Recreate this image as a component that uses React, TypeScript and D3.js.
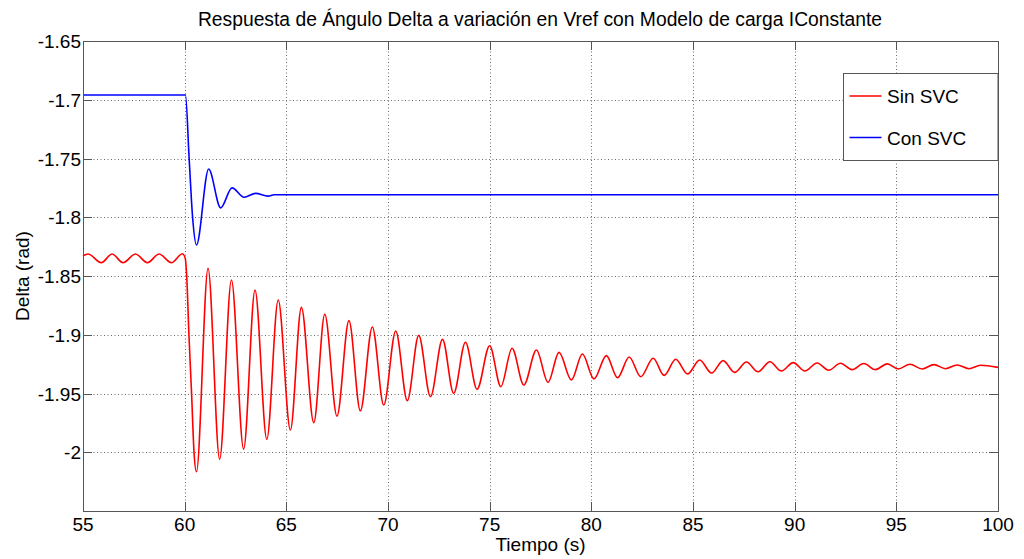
import React from 'react';
import * as d3 from 'd3';

// Readings from the figure: time (s) and delta angle (rad) at turning points
const sinSvcTime = [
  55.0, 55.25, 55.9, 56.43, 56.97, 57.58, 58.17, 58.74, 59.35, 59.89,
  60.03, 60.1, 60.21, 60.34, 60.46, 60.58, 61.15, 61.72, 62.3, 62.9,
  63.46, 64.04, 64.6, 65.2, 65.74, 66.35, 66.89, 67.49, 68.08, 68.64,
  69.23, 69.79, 70.38, 70.95, 71.51, 72.09, 72.68, 73.23, 73.81, 74.38,
  75.0, 75.55, 76.1, 76.68, 77.3, 77.87, 78.41, 79.02, 79.56, 80.13,
  80.74, 81.29, 81.86, 82.43, 83.04, 83.58, 84.15, 84.73, 85.33, 85.91,
  86.48, 87.05, 87.63, 88.2, 88.78, 89.35, 89.93, 90.5, 91.1, 91.68,
  92.25, 92.82, 93.4, 93.97, 94.55, 95.09, 95.67, 96.27, 96.85, 97.42,
  97.99, 98.57, 99.14, 100.0,
];
const sinSvcDelta = [
  -1.8328, -1.8313, -1.8387, -1.8313, -1.8387, -1.8313, -1.8387, -1.8313, -1.8387, -1.8311,
  -1.835, -1.85, -1.9, -1.95, -2.0, -2.0166, -1.8435, -2.006, -1.8534, -1.9973,
  -1.862, -1.989, -1.8704, -1.981, -1.8767, -1.9748, -1.8826, -1.9693, -1.888, -1.9648,
  -1.8934, -1.9598, -1.8968, -1.9561, -1.9005, -1.9527, -1.9039, -1.9498, -1.9064, -1.9464,
  -1.9093, -1.9442, -1.9115, -1.9428, -1.913, -1.9405, -1.915, -1.9385, -1.9164, -1.9377,
  -1.9178, -1.9366, -1.9189, -1.9357, -1.92, -1.9346, -1.9209, -1.9334, -1.9215, -1.9326,
  -1.922, -1.932, -1.9232, -1.9315, -1.923, -1.9309, -1.9237, -1.9309, -1.924, -1.9302,
  -1.9243, -1.9297, -1.9245, -1.9297, -1.9248, -1.9291, -1.9251, -1.9291, -1.9254, -1.9289,
  -1.9257, -1.9289, -1.926, -1.9278,
];

const conSvcTime = [55, 60.04, 60.22, 60.39, 60.58, 61.18, 61.77, 62.33, 62.92, 63.49, 64.1, 64.4, 100];
const conSvcDelta = [-1.696, -1.696, -1.75, -1.8, -1.8236, -1.759, -1.792, -1.775, -1.783, -1.7797, -1.782, -1.7808, -1.7808];

const xTicks = [55, 60, 65, 70, 75, 80, 85, 90, 95, 100];
const yTicks = [-1.65, -1.7, -1.75, -1.8, -1.85, -1.9, -1.95, -2];

const seriesNames = ['Sin SVC', 'Con SVC'];
const seriesColors = ['#ff0000', '#0000ff'];

const W = 1024;
const H = 559;
const margin = { left: 83, right: 26, top: 41, bottom: 48 };
const font = 'Arial, "Liberation Sans", Helvetica, sans-serif';

const App: React.FC = () => {
  const x = d3.scaleLinear().domain([55, 100]).range([margin.left, W - margin.right]);
  const y = d3.scaleLinear().domain([-2.05, -1.65]).range([H - margin.bottom, margin.top]);

  const line = d3
    .line<[number, number]>()
    .x(d => x(d[0]))
    .y(d => y(d[1]))
    .curve(d3.curveMonotoneX);

  const sinData = sinSvcTime.map((t, i) => [t, sinSvcDelta[i]] as [number, number]);
  const conData = conSvcTime.map((t, i) => [t, conSvcDelta[i]] as [number, number]);

  const [x0, x1] = x.range();
  const [y0, y1] = y.range(); // y0 bottom, y1 top
  const tickLen = 9;
  const axisColor = '#555';
  const gridColor = '#444';

  // legend box
  const lgX = 843.5;
  const lgY = 73.5;
  const lgW = x1 - lgX;
  const lgH = 87;

  return (
    <svg
      width={W}
      height={H}
      style={{ position: 'fixed', left: 0, top: 0, background: '#fff' }}
      fontFamily={font}
    >
      <rect x={0} y={0} width={W} height={H} fill="#fff" />

      {/* grid */}
      <g stroke={gridColor} strokeWidth={1} strokeDasharray="1,2.5" opacity={0.8}>
        {xTicks.slice(1, -1).map(t => (
          <line key={'gx' + t} x1={Math.round(x(t)) + 0.5} x2={Math.round(x(t)) + 0.5} y1={y1} y2={y0} />
        ))}
        {yTicks.map(t => (
          <line key={'gy' + t} x1={x0} x2={x1} y1={Math.round(y(t)) + 0.5} y2={Math.round(y(t)) + 0.5} />
        ))}
      </g>

      {/* tick marks on all sides */}
      <g stroke={axisColor} strokeWidth={1}>
        {xTicks.map(t => {
          const px = Math.round(x(t)) + 0.5;
          return (
            <g key={'tx' + t}>
              <line x1={px} x2={px} y1={y0} y2={y0 - tickLen} />
              <line x1={px} x2={px} y1={y1} y2={y1 + tickLen} />
            </g>
          );
        })}
        {yTicks.map(t => {
          const py = Math.round(y(t)) + 0.5;
          return (
            <g key={'ty' + t}>
              <line x1={x0} x2={x0 + tickLen} y1={py} y2={py} />
              <line x1={x1} x2={x1 - tickLen} y1={py} y2={py} />
            </g>
          );
        })}
      </g>

      {/* series */}
      <path d={line(sinData) || ''} fill="none" stroke={seriesColors[0]} strokeWidth={1.6} />
      <path d={line(conData) || ''} fill="none" stroke={seriesColors[1]} strokeWidth={1.6} />

      {/* axes box */}
      <rect x={x0 + 0.5} y={y1 + 0.5} width={x1 - x0} height={y0 - y1} fill="none" stroke={axisColor} strokeWidth={1} />

      {/* tick labels */}
      <g fontSize={19} fill="#000">
        {xTicks.map(t => (
          <text key={'lx' + t} x={x(t)} y={y0 + 20} textAnchor="middle">
            {t}
          </text>
        ))}
        {yTicks.map(t => (
          <text key={'ly' + t} x={x0 - 2} y={y(t) + 7} textAnchor="end">
            {t}
          </text>
        ))}
      </g>

      {/* title and axis labels */}
      <text x={540} y={26} textAnchor="middle" fontSize={19.3} fill="#000">
        Respuesta de Ángulo Delta a variación en Vref con Modelo de carga IConstante
      </text>
      <text x={(x0 + x1) / 2} y={551} textAnchor="middle" fontSize={19} fill="#000">
        Tiempo (s)
      </text>
      <text
        transform={`translate(29,${(y0 + y1) / 2}) rotate(-90)`}
        textAnchor="middle"
        fontSize={19}
        fill="#000"
      >
        Delta (rad)
      </text>

      {/* legend */}
      <rect x={lgX} y={lgY} width={lgW} height={lgH} fill="#fff" stroke={axisColor} strokeWidth={1} />
      {seriesNames.map((name, i) => {
        const ly = 96 + i * 41.5;
        return (
          <g key={name}>
            <line x1={849.5} x2={881.5} y1={ly} y2={ly} stroke={seriesColors[i]} strokeWidth={1.6} />
            <text x={887} y={ly + 7} fontSize={19} fill="#000">
              {name}
            </text>
          </g>
        );
      })}
    </svg>
  );
};

export default App;
